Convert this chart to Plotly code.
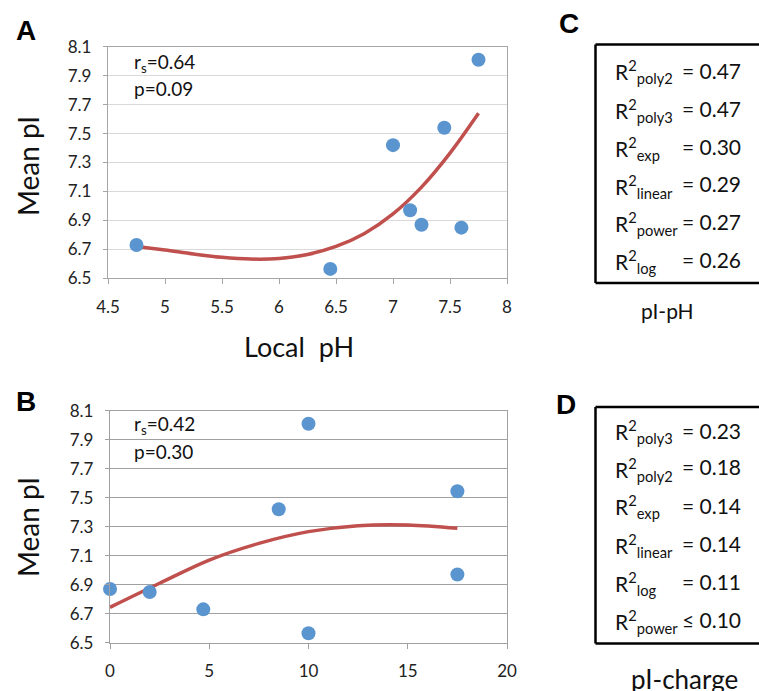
import plotly.graph_objects as go

W, H = 759, 691

# ---- data ----
ph_x = [4.75, 6.45, 7.0, 7.15, 7.25, 7.45, 7.6, 7.75]
ph_pi = [6.73, 6.565, 7.42, 6.97, 6.87, 7.54, 6.85, 8.01]
fitA_x = [4.75, 5.0, 5.25, 5.5, 5.75, 6.0, 6.25, 6.5, 6.75, 7.0, 7.25, 7.5, 7.75]
fitA_y = [6.72, 6.695, 6.668, 6.645, 6.633, 6.637, 6.664, 6.72, 6.81, 6.945, 7.13, 7.365, 7.64]

charge_x = [0, 2, 4.7, 8.5, 10, 10, 17.5, 17.5]
charge_pi = [6.87, 6.85, 6.73, 7.42, 8.01, 6.565, 7.545, 6.97]
fitB_x = [0, 2.5, 5, 7.5, 10, 12.5, 15, 17.5]
fitB_y = [6.744, 6.91, 7.07, 7.185, 7.266, 7.307, 7.312, 7.289]

statsA = ["r<sub>s</sub>=0.64", "p=0.09"]
statsB = ["r<sub>s</sub>=0.42", "p=0.30"]

c_models = ["poly2", "poly3", "exp", "linear", "power", "log"]
c_values = ["= 0.47", "= 0.47", "= 0.30", "= 0.29", "= 0.27", "= 0.26"]
d_models = ["poly3", "poly2", "exp", "linear", "log", "power"]
d_values = ["= 0.23", "= 0.18", "= 0.14", "= 0.14", "= 0.11", "\u2264 0.10"]

FONT = "Lato"
BLUE = "#5B95CF"
RED = "#C0504D"


def px(x, y):
    return x / W, 1 - y / H


fig = go.Figure()
fig.add_trace(go.Scatter(x=fitA_x, y=fitA_y, mode="lines", line=dict(color=RED, width=3.5, shape="spline"),
                         xaxis="x", yaxis="y", hoverinfo="skip"))
fig.add_trace(go.Scatter(x=ph_x, y=ph_pi, mode="markers", marker=dict(color=BLUE, size=14),
                         cliponaxis=False, xaxis="x", yaxis="y"))
fig.add_trace(go.Scatter(x=fitB_x, y=fitB_y, mode="lines", line=dict(color=RED, width=3.5, shape="spline"),
                         xaxis="x2", yaxis="y2", hoverinfo="skip"))
fig.add_trace(go.Scatter(x=charge_x, y=charge_pi, mode="markers", marker=dict(color=BLUE, size=14),
                         cliponaxis=False, xaxis="x2", yaxis="y2"))


def xax(domain, rng, dtick, lc):
    return dict(domain=domain, range=rng, dtick=dtick, showgrid=False, zeroline=False,
                showline=True, linecolor=lc, linewidth=1.3, mirror=True, automargin=False,
                ticks="outside", ticklen=5, tickcolor=lc, tickwidth=1.3,
                tickfont=dict(family=FONT, size=17, color="#222"), ticklabelstandoff=8, fixedrange=True)


def yax(domain, gc, lc, anchor):
    return dict(domain=domain, range=[6.5, 8.1], dtick=0.2, tick0=6.5, tickformat=".1f",
                showgrid=True, gridcolor=gc, gridwidth=1.3, zeroline=False, automargin=False,
                showline=True, linecolor=lc, linewidth=1.3, mirror=True,
                ticks="outside", ticklen=4, tickcolor=lc, tickwidth=1.3, anchor=anchor,
                tickfont=dict(family=FONT, size=17, color="#222"), ticklabelstandoff=8, fixedrange=True)


fig.update_layout(
    width=W, height=H, margin=dict(l=0, r=0, t=0, b=0, autoexpand=False),
    paper_bgcolor="white", plot_bgcolor="white", showlegend=False,
    xaxis=xax([108 / W, 507 / W], [4.5, 8], 0.5, "#A6A6A6") | dict(anchor="y"),
    yaxis=yax([1 - 278.3 / H, 1 - 46.7 / H], "#D9D9D9", "#A6A6A6", "x"),
    xaxis2=xax([110 / W, 507 / W], [0, 20], 5, "#A0A0A0") | dict(anchor="y2"),
    yaxis2=yax([1 - 642.7 / H, 1 - 410.7 / H], "#A0A0A0", "#A0A0A0", "x2"),
)

ann = []


def add_text(text, x, y, size, xanchor="center", yanchor="middle", bold=False, family=FONT, angle=0):
    ax, ay = px(x, y)
    ann.append(dict(text=text, x=ax, y=ay, xref="paper", yref="paper", showarrow=False,
                    xanchor=xanchor, yanchor=yanchor, textangle=angle,
                    font=dict(family=family, size=size, color="black" if bold else "#111")))


# panel letters
for letter, (lx, ly) in zip("ABCD", [(26, 30), (26, 402), (569, 23), (566, 404)]):
    add_text("<b>%s</b>" % letter, lx, ly, 28, bold=True, family="Liberation Sans")

# axis titles
add_text("Mean pI", 28, 166, 28, angle=-90)
add_text("Mean pI", 28, 527, 28, angle=-90)
add_text("Local\u00a0\u00a0pH", 299, 346, 27)

# stats
add_text(statsA[0], 132, 63, 19, xanchor="left")
add_text(statsA[1], 132, 89, 19, xanchor="left")
add_text(statsB[0], 132, 425, 19, xanchor="left")
add_text(statsB[1], 132, 451, 19, xanchor="left")

# tables
c_rows = [70, 108, 146, 184, 221.5, 259.5]
d_rows = [430, 467, 505, 543, 581, 619.5]
for m, v, yy in zip(c_models, c_values, c_rows):
    add_text("R<sup>2</sup><sub>%s</sub>" % m, 613, yy + 2, 21, xanchor="left")
    add_text(v, 743, yy, 21, xanchor="right")
for m, v, yy in zip(d_models, d_values, d_rows):
    add_text("R<sup>2</sup><sub>%s</sub>" % m, 613, yy + 2, 21, xanchor="left")
    add_text(v, 743, yy, 21, xanchor="right")

add_text("pI-pH", 667, 310, 21)
add_text("pI-charge", 684, 679, 26)

fig.update_layout(annotations=ann)

# table boxes (right side runs off the picture)
shapes = []
for top, bot in [(44.5, 283), (407, 643.5)]:
    for (x0, y0, x1, y1) in [(595.5, top, 800, top), (595.5, top, 595.5, bot), (595.5, bot, 800, bot)]:
        a0, b0 = px(x0, y0)
        a1, b1 = px(x1, y1)
        shapes.append(dict(type="line", xref="paper", yref="paper", x0=a0, y0=b0, x1=a1, y1=b1,
                           line=dict(color="black", width=2.5)))
fig.update_layout(shapes=shapes)

fig.write_html("out.html", config={"displayModeBar": False},
               post_script="document.body.style.margin='0';document.body.style.overflow='hidden';")
